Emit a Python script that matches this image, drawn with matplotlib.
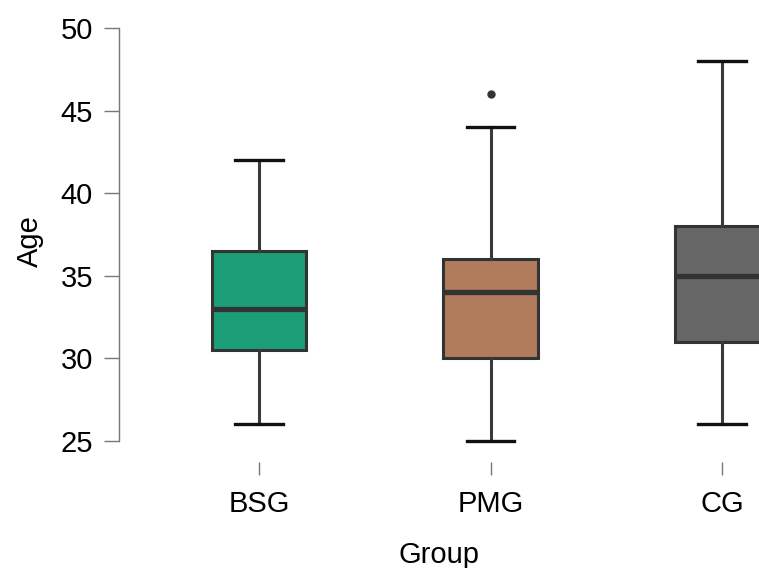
import matplotlib
matplotlib.use("Agg")
import matplotlib.pyplot as plt

plt.rcParams['font.family'] = ['Liberation Sans', 'DejaVu Sans']

groups = ["BSG", "PMG", "CG"]
q1 = [30.5, 30.0, 31.0]
medians = [33.0, 34.0, 35.0]
q3 = [36.5, 36.0, 38.0]
whisker_low = [26, 25, 26]
whisker_high = [42, 44, 48]
outliers = [[], [46], []]
colors = ["#1b9e77", "#b07c5c", "#666666"]

W, H = 759, 568
fig = plt.figure(figsize=(W / 100, H / 100), dpi=100)
left, right, top, bottom = 119, 759, 20, 462
ax = fig.add_axes([left / W, 1 - bottom / H, (right - left) / W, (bottom - top) / H])

stats = []
for i, g in enumerate(groups):
    stats.append(dict(label=g, q1=q1[i], med=medians[i], q3=q3[i],
                      whislo=whisker_low[i], whishi=whisker_high[i],
                      fliers=outliers[i]))

bp = ax.bxp(stats, positions=range(len(groups)), widths=0.41,
            patch_artist=True, showfliers=True,
            boxprops=dict(edgecolor="#333333", linewidth=2.2),
            medianprops=dict(color="#333333", linewidth=3.8, solid_capstyle="butt"),
            whiskerprops=dict(color="#3a3a3a", linewidth=2.2),
            capprops=dict(color="#111111", linewidth=2.4),
            capwidths=0.205,
            flierprops=dict(marker="o", markerfacecolor="#333333",
                            markeredgecolor="#333333", markersize=5))
for patch, c in zip(bp["boxes"], colors):
    patch.set_facecolor(c)

ax.set_xlim(-0.605, 2.16)
ax.set_ylim(23.73, 50.48)

ax.set_yticks([25, 30, 35, 40, 45, 50])
ax.set_xticks(range(len(groups)))
ax.set_xticklabels(groups)

for s in ["top", "right", "bottom"]:
    ax.spines[s].set_visible(False)
ax.spines["left"].set_bounds(25, 50)
ax.spines["left"].set_color("#777777")
ax.spines["left"].set_linewidth(1.0)

ax.tick_params(axis="y", length=10.8, width=1.0, color="#777777",
               labelsize=21, pad=8, direction="out")
ax.tick_params(axis="x", length=9.4, width=1.0, color="#777777",
               labelsize=21, pad=10.5, direction="out")

ax.set_ylabel("Age", fontsize=21, labelpad=11.5)
ax.set_xlabel("Group", fontsize=21, labelpad=16.5)

fig.savefig("out.png", dpi=100)
